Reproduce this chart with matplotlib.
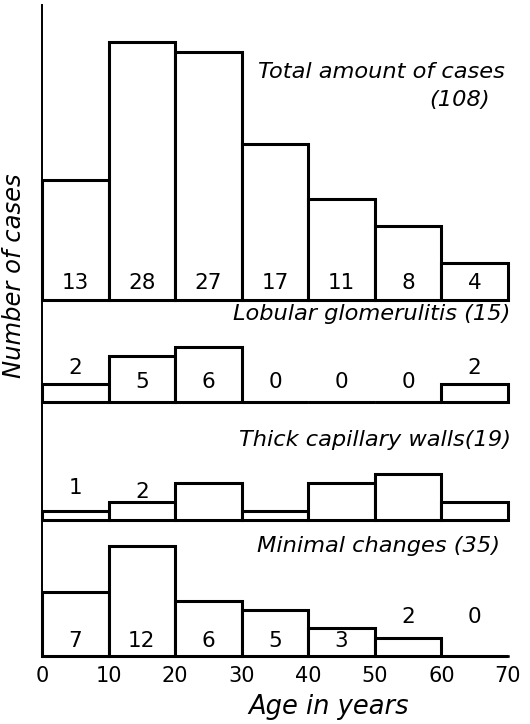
import matplotlib
matplotlib.use("Agg")
import matplotlib.pyplot as plt

# ---- data ----
bin_starts = [0, 10, 20, 30, 40, 50, 60]
bin_width = 10
total_cases = [13, 28, 27, 17, 11, 8, 4]
lobular_glomerulitis = [2, 5, 6, 0, 0, 0, 2]
thick_capillary_walls = [1, 2, 4, 1, 4, 5, 2]
minimal_changes = [7, 12, 6, 5, 3, 2, 0]
x_ticks = [0, 10, 20, 30, 40, 50, 60, 70]

W, H = 530, 724
fig = plt.figure(figsize=(W / 100, H / 100), dpi=100)

LEFT, RIGHT = 42, 508
PX_PER_UNIT = 9.2

def make_axes(top_px, bottom_px):
    ax = fig.add_axes([LEFT / W, 1 - bottom_px / H, (RIGHT - LEFT) / W, (bottom_px - top_px) / H])
    ax.set_xlim(0, 70)
    ax.set_ylim(0, (bottom_px - top_px) / PX_PER_UNIT)
    for s in ("top", "right"):
        ax.spines[s].set_visible(False)
    ax.spines["left"].set_linewidth(1.4)
    ax.spines["bottom"].set_linewidth(1.8)
    ax.set_yticks([])
    ax.patch.set_alpha(0)
    return ax

ital = dict(family="DejaVu Sans", style="italic", color="black")
num = dict(family="DejaVu Sans", color="black", fontsize=15.5)

panels = [
    # (values, top_px, bottom_px, label y per bin (None = hidden), title lines)
    (total_cases, 5, 300, [1.85] * 7,
     [("Total amount of cases", 69.6, 24.8), ("(108)", 67.3, 21.7)]),
    (lobular_glomerulitis, 300, 402, [3.7, 2.2, 2.2, 2.2, 2.2, 2.2, 3.7],
     [("Lobular glomerulitis (15)", 70.4, 9.6)]),
    (thick_capillary_walls, 402, 520, [3.5, 3.0, None, None, None, None, None],
     [("Thick capillary walls(19)", 70.4, 8.7)]),
    (minimal_changes, 520, 656, [1.6, 1.6, 1.6, 1.6, 1.6, 4.2, 4.2],
     [("Minimal changes (35)", 68.8, 12.0)]),
]

axes = []
for vals, top, bot, label_ys, titles in panels:
    ax = make_axes(top, bot)
    ax.bar(bin_starts, vals, width=bin_width, align="edge", color="white",
           edgecolor="black", linewidth=2.2, clip_on=False, zorder=2)
    for x0, v, ly in zip(bin_starts, vals, label_ys):
        if ly is not None:
            ax.text(x0 + bin_width / 2, ly, str(v), ha="center", va="center", zorder=3, **num)
    for txt, tx, ty in titles:
        ax.text(tx, ty, txt, ha="right", va="center", fontsize=16.2, zorder=3, **ital)
    ax.set_xticks([])
    axes.append(ax)

last = axes[-1]
last.set_xticks(x_ticks)
last.set_xticklabels([str(t) for t in x_ticks], fontsize=15, family="DejaVu Sans")
last.tick_params(axis="x", length=0, pad=7)

fig.text(329 / W, 1 - 707 / H, "Age in years", ha="center", va="center", fontsize=18.5, **ital)
fig.text(14 / W, 1 - 276 / H, "Number of cases", rotation=90, ha="center", va="center",
         fontsize=17.5, **ital)

fig.savefig("out.png", dpi=100)
